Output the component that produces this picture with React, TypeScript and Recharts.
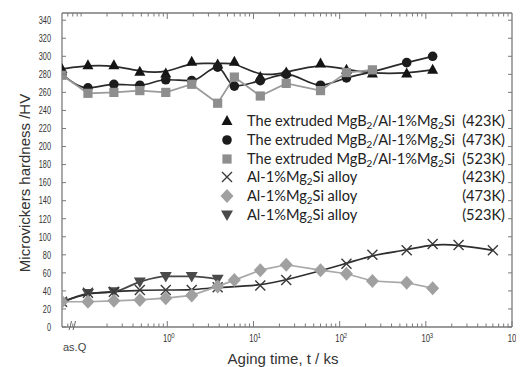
import React from 'react';
import { LineChart, Line, XAxis, YAxis } from 'recharts';

// "as.Q" (as-quenched) is placed at the left edge of the log axis
const AS_Q = 0.06;

const compositeTimes = [AS_Q, 0.12, 0.24, 0.48, 0.96, 1.92, 3.84, 6, 12, 24, 60, 120, 240, 600, 1200];
const composite423K = [286, 290, 290, 283, 281, 294, 291, 294, 277, 282, 292, 285, 281, 281, 285];
const composite473K = [280, 265, 269, 268, 274, 273, 288, 267, 273, 280, 268, 276, 283, 293, 300];
const composite523KTimes = [AS_Q, 0.12, 0.24, 0.48, 0.96, 1.92, 3.84, 6, 12, 24, 60, 120, 240];
const composite523K = [279, 259, 260, 262, 260, 269, 248, 277, 256, 270, 262, 282, 285];

const alloy423KTimes = [AS_Q, 0.12, 0.24, 0.48, 0.96, 1.92, 3.84, 12, 24, 120, 240, 600, 1200, 2400, 6000];
const alloy423K = [28, 38, 39, 41, 41, 41, 44, 46, 52, 70, 80, 85, 92, 91, 85];
const alloy473KTimes = [AS_Q, 0.12, 0.24, 0.48, 0.96, 1.92, 3.84, 6, 12, 24, 60, 120, 240, 600, 1200];
const alloy473K = [28, 28, 29, 30, 32, 35, 45, 52, 63, 69, 63, 59, 51, 49, 43];
const alloy523KTimes = [AS_Q, 0.12, 0.24, 0.48, 0.96, 1.92, 3.84];
const alloy523K = [27, 37, 39, 50, 56, 56, 53];

const decadeTicks = [1, 10, 100, 1000, 10000];
const decadeExponents = ['0', '1', '2', '3', '4'];
const bottomTicks = [
  AS_Q, 0.07, 0.08,
  0.2, 0.3, 0.4, 0.5, 0.6, 0.7, 0.8, 0.9,
  1, 2, 3, 4, 5, 6, 7, 8, 9,
  10, 20, 30, 40, 50, 60, 70, 80, 90,
  100, 200, 300, 400, 500, 600, 700, 800, 900,
  1000, 2000, 3000, 4000, 5000, 6000, 7000, 8000, 9000,
  10000,
];
const topTicks = [
  0.07, 0.08, 0.09, 0.1,
  0.2, 0.3, 0.4, 0.5, 0.6, 0.7, 0.8, 0.9,
  1, 2, 3, 4, 5, 6, 7, 8, 9,
  10, 20, 30, 40, 50, 60, 70, 80, 90,
  100, 200, 300, 400, 500, 600, 700, 800, 900,
  1000, 2000, 3000, 4000, 5000, 6000, 7000, 8000, 9000,
];
const yTicks = [0, 20, 40, 60, 80, 100, 120, 140, 160, 180, 200, 220, 240, 260, 280, 300, 320, 340];

type Shape = 'triUp' | 'circle' | 'square' | 'cross' | 'diamond' | 'triDown';

const series = [
  { key: 'c423', times: compositeTimes, values: composite423K, shape: 'triUp' as Shape, color: '#141414', line: '#2a2a2a', curve: 'basis', kind: 'composite', temp: '(423K)' },
  { key: 'c473', times: compositeTimes, values: composite473K, shape: 'circle' as Shape, color: '#1c1c1c', line: '#2a2a2a', curve: 'monotone', kind: 'composite', temp: '(473K)' },
  { key: 'c523', times: composite523KTimes, values: composite523K, shape: 'square' as Shape, color: '#8e8e8e', line: '#9a9a9a', curve: 'linear', kind: 'composite', temp: '(523K)' },
  { key: 'a423', times: alloy423KTimes, values: alloy423K, shape: 'cross' as Shape, color: '#3a3a3a', line: '#2e2e2e', curve: 'basis', kind: 'alloy', temp: '(423K)' },
  { key: 'a473', times: alloy473KTimes, values: alloy473K, shape: 'diamond' as Shape, color: '#a0a0a0', line: '#a8a8a8', curve: 'linear', kind: 'alloy', temp: '(473K)' },
  { key: 'a523', times: alloy523KTimes, values: alloy523K, shape: 'triDown' as Shape, color: '#4a4a4a', line: '#474747', curve: 'monotone', kind: 'alloy', temp: '(523K)' },
];
const drawOrder = ['c423', 'c473', 'c523', 'a523', 'a423', 'a473'];

function Marker({ shape, cx, cy, color }: { shape: Shape; cx: number; cy: number; color: string }) {
  switch (shape) {
    case 'triUp':
      return <path d={`M${cx},${cy - 6} L${cx + 5.5},${cy + 4} L${cx - 5.5},${cy + 4} Z`} fill={color} />;
    case 'triDown':
      return <path d={`M${cx},${cy + 6} L${cx + 6},${cy - 4.5} L${cx - 6},${cy - 4.5} Z`} fill={color} />;
    case 'circle':
      return <circle cx={cx} cy={cy} r={4.8} fill={color} />;
    case 'square':
      return <rect x={cx - 4.6} y={cy - 4.6} width={9.2} height={9.2} fill={color} />;
    case 'cross':
      return (
        <path
          d={`M${cx - 5},${cy - 5} L${cx + 5},${cy + 5} M${cx - 5},${cy + 5} L${cx + 5},${cy - 5}`}
          stroke={color}
          strokeWidth={1.4}
          fill="none"
        />
      );
    case 'diamond':
      return <path d={`M${cx},${cy - 7} L${cx + 6.5},${cy} L${cx},${cy + 7} L${cx - 6.5},${cy} Z`} fill={color} />;
  }
  return null;
}

const AXIS = '#7a7a7a';
const TICK_TEXT = '#333';

const BottomTick = (props: any) => {
  const { x, y, payload } = props;
  const v = payload.value;
  if (v === AS_Q) {
    return (
      <g>
        <text x={x + 1} y={y + 24} fontSize={11} fill="#444" fontFamily="Liberation Sans, Arial, sans-serif">
          as.Q
        </text>
        <path d={`M${x + 7},${y + 3} Q${x + 8.5},${y - 1} ${x + 9.5},${y - 6}`} stroke="#666" strokeWidth={1} fill="none" />
        <path d={`M${x + 11},${y + 3} Q${x + 12.5},${y - 1} ${x + 13.5},${y - 6}`} stroke="#666" strokeWidth={1} fill="none" />
      </g>
    );
  }
  const idx = decadeTicks.indexOf(v);
  const major = idx >= 0;
  return (
    <g>
      <line x1={x} x2={x} y1={y} y2={y - (major ? 6 : 3.5)} stroke={AXIS} strokeWidth={1} />
      {major && (
        <g transform={`translate(${x} ${y + 15})`}>
          <text x={0} y={0} textAnchor="middle" fontSize={11} fill={TICK_TEXT} fontFamily="Liberation Sans, Arial, sans-serif" transform="scale(0.7 1)">
            10
          </text>
          <text x={5} y={-4.5} fontSize={7.5} fill={TICK_TEXT} fontFamily="Liberation Sans, Arial, sans-serif" transform="scale(0.8 1)">
            {decadeExponents[idx]}
          </text>
        </g>
      )}
    </g>
  );
};

const TopTick = (props: any) => {
  const { x, y, payload } = props;
  const major = decadeTicks.indexOf(payload.value) >= 0;
  return <line x1={x} x2={x} y1={y} y2={y + (major ? 6 : 3.5)} stroke={AXIS} strokeWidth={1} />;
};

const LeftTick = (props: any) => {
  const { x, y, payload } = props;
  return (
    <g>
      <line x1={x} x2={x + 4} y1={y} y2={y} stroke={AXIS} strokeWidth={1} />
      <g transform={`translate(${x - 11} ${y + 3.8})`}>
        <text x={0} y={0} textAnchor="end" fontSize={10.5} fill={TICK_TEXT} fontFamily="Liberation Sans, Arial, sans-serif" transform="scale(0.7 1)">
          {payload.value}
        </text>
      </g>
    </g>
  );
};

const RightTick = (props: any) => {
  const { x, y } = props;
  return <line x1={x} x2={x - 4} y1={y} y2={y} stroke={AXIS} strokeWidth={1} />;
};

const Sub = ({ children }: { children: React.ReactNode }) => (
  <sub style={{ fontSize: '0.68em', verticalAlign: '-0.3em', lineHeight: 0 }}>{children}</sub>
);

function LegendLabel({ kind }: { kind: string }) {
  if (kind === 'composite') {
    return (
      <span>
        The extruded MgB<Sub>2</Sub>/Al-1%Mg<Sub>2</Sub>Si
      </span>
    );
  }
  return (
    <span>
      Al-1%Mg<Sub>2</Sub>Si alloy
    </span>
  );
}

export default function App() {
  const W = 516;
  const H = 359;
  return (
    <div style={{ position: 'relative', width: W, height: H }}>
      <LineChart width={W} height={H} margin={{ top: 4, right: 11, bottom: 0, left: 0 }} style={{ overflow: 'visible' }}>
        <XAxis
          xAxisId="bottom"
          dataKey="t"
          type="number"
          scale="log"
          domain={[AS_Q, 10000]}
          allowDataOverflow
          ticks={bottomTicks}
          interval={0}
          tick={<BottomTick />}
          tickLine={false}
          tickSize={0}
          tickMargin={0}
          height={40}
          axisLine={{ stroke: AXIS, strokeWidth: 1.3 }}
        />
        <XAxis
          xAxisId="top"
          orientation="top"
          dataKey="t"
          type="number"
          scale="log"
          domain={[AS_Q, 10000]}
          allowDataOverflow
          ticks={topTicks}
          interval={0}
          tick={<TopTick />}
          tickLine={false}
          tickSize={0}
          tickMargin={0}
          height={1}
          axisLine={{ stroke: AXIS, strokeWidth: 1.3 }}
        />
        <YAxis
          yAxisId="left"
          type="number"
          domain={[0, 348]}
          allowDataOverflow
          ticks={yTicks}
          interval={0}
          tick={<LeftTick />}
          tickLine={false}
          tickSize={0}
          tickMargin={0}
          width={54}
          axisLine={{ stroke: AXIS, strokeWidth: 1.3 }}
        />
        <YAxis
          yAxisId="right"
          orientation="right"
          type="number"
          domain={[0, 348]}
          allowDataOverflow
          ticks={yTicks}
          interval={0}
          tick={<RightTick />}
          tickLine={false}
          tickSize={0}
          tickMargin={0}
          width={1}
          axisLine={{ stroke: AXIS, strokeWidth: 1.3 }}
        />
        {drawOrder.map((k) => {
          const s = series.find((q) => q.key === k)!;
          const data = s.times.map((t, i) => ({ t, v: s.values[i] }));
          return (
            <Line
              key={s.key}
              xAxisId="bottom"
              yAxisId="left"
              data={data}
              dataKey="v"
              type={s.curve as any}
              stroke={s.line}
              strokeWidth={1.7}
              isAnimationActive={false}
              activeDot={false}
              dot={(p: any) => {
                if (p.cx == null || p.cy == null || p.value == null) return <g key={`${s.key}-${p.index}`} />;
                return (
                  <g key={`${s.key}-${p.index}`}>
                    <Marker shape={s.shape} cx={p.cx} cy={p.cy} color={s.color} />
                  </g>
                );
              }}
            />
          );
        })}
      </LineChart>

      {/* Y axis title */}
      <div
        style={{
          position: 'absolute',
          left: 15.5,
          top: 175,
          transform: 'translate(-50%, -50%) rotate(-90deg)',
          whiteSpace: 'nowrap',
          fontFamily: 'Liberation Sans, Arial, sans-serif',
          fontSize: 15,
          color: '#333',
        }}
      >
        Microvickers hardness /HV
      </div>

      {/* X axis title */}
      <div
        style={{
          position: 'absolute',
          left: 275,
          top: 350,
          transform: 'translate(-50%, -50%)',
          whiteSpace: 'nowrap',
          fontFamily: 'Liberation Sans, Arial, sans-serif',
          fontSize: 15,
          color: '#333',
        }}
      >
        Aging time, t / ks
      </div>

      {/* Legend */}
      {series.map((s, i) => (
        <div
          key={s.key}
          style={{
            position: 'absolute',
            left: 211,
            top: 113 + i * 18.75 - 10,
            width: 286,
            height: 20,
            display: 'flex',
            alignItems: 'center',
            fontFamily: 'Lato, "Open Sans", sans-serif',
            fontSize: 14.6,
            color: '#222',
            lineHeight: '20px',
            whiteSpace: 'nowrap',
          }}
        >
          <svg width={16} height={16} style={{ flex: 'none' }}>
            <Marker shape={s.shape} cx={8} cy={8} color={s.color} />
          </svg>
          <div style={{ marginLeft: 12, flex: 1 }}>
            <LegendLabel kind={s.kind} />
          </div>
          <div style={{ marginLeft: 3 }}>{s.temp}</div>
        </div>
      ))}
    </div>
  );
}
